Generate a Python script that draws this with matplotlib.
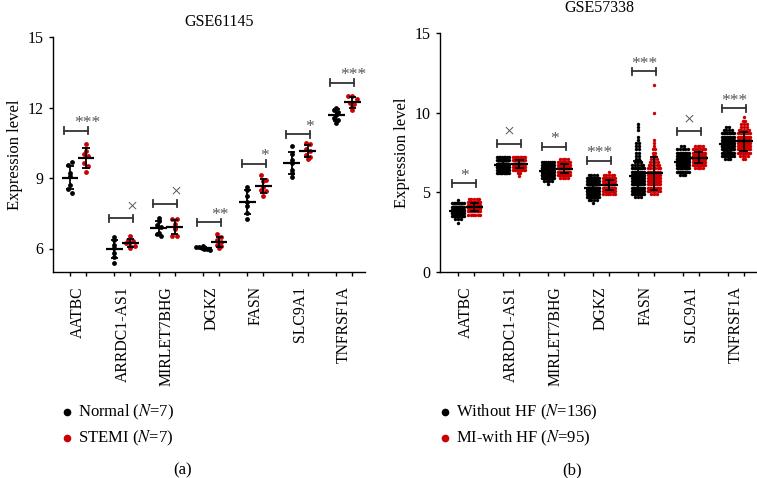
import numpy as np
import matplotlib
matplotlib.use("Agg")
import matplotlib.pyplot as plt
from matplotlib.lines import Line2D

plt.rcParams['font.family'] = ['Liberation Serif', 'DejaVu Serif']
plt.rcParams['mathtext.fontset'] = 'stix'

genes = ['AATBC', 'ARRDC1-AS1', 'MIRLET7BHG', 'DGKZ', 'FASN', 'SLC9A1', 'TNFRSF1A']

# ---------------- Panel (a): GSE61145 (N=7 per group) ----------------
normal_a = [
    [9.54, 9.68, 9.22, 9.07, 8.72, 8.54, 8.37],
    [6.50, 6.35, 6.17, 6.03, 5.82, 5.65, 5.40],
    [7.30, 7.16, 6.98, 6.90, 6.67, 6.60, 6.52],
    [6.10, 6.07, 6.05, 6.02, 6.00, 5.97, 5.95],
    [8.62, 8.50, 8.22, 8.00, 7.80, 7.51, 7.26],
    [10.37, 10.03, 9.78, 9.64, 9.35, 9.21, 9.04],
    [12.00, 11.90, 11.79, 11.69, 11.55, 11.48, 11.34],
]
stemi_a = [
    [10.46, 10.17, 10.02, 9.92, 9.64, 9.50, 9.24],
    [6.55, 6.35, 6.31, 6.24, 6.10, 6.10, 6.03],
    [7.27, 7.27, 7.06, 6.88, 6.81, 6.55, 6.52],
    [6.60, 6.50, 6.35, 6.28, 6.17, 6.10, 6.03],
    [9.11, 8.93, 8.86, 8.62, 8.50, 8.43, 8.25],
    [10.49, 10.46, 10.25, 10.13, 9.99, 9.89, 9.82],
    [12.51, 12.51, 12.35, 12.18, 12.16, 12.01, 11.90],
]
sig_a = ['***', '×', '×', '**', '*', '*', '***']
sig_a_y = [11.02, 7.29, 7.91, 7.12, 9.60, 10.87, 13.05]

woHF_levels = [
    [3.1, 3.3, 3.5, 3.7, 3.9, 4.1, 4.3, 4.5],
    [6.2, 6.4, 6.6, 6.8, 7.0, 7.2],
    [5.5, 5.7, 5.9, 6.1, 6.3, 6.5, 6.7, 6.9],
    [4.3, 4.5, 4.7, 4.9, 5.1, 5.3, 5.5, 5.7, 5.9, 6.1],
    [4.7, 4.9, 5.1, 5.3, 5.5, 5.7, 5.9, 6.1, 6.3, 6.5, 6.7, 6.9, 7.1, 7.3, 7.5, 7.7,
     7.9, 8.1, 8.3, 8.5, 8.9, 9.1, 9.3],
    [6.1, 6.3, 6.5, 6.7, 6.9, 7.1, 7.3, 7.5, 7.7, 7.9],
    [7.1, 7.3, 7.5, 7.7, 7.9, 8.1, 8.3, 8.5, 8.7, 8.9, 9.1],
]
woHF_counts = [
    [1, 3, 16, 38, 42, 26, 9, 1],
    [10, 24, 38, 34, 22, 8],
    [1, 4, 14, 26, 34, 30, 20, 7],
    [1, 4, 10, 18, 25, 26, 22, 16, 10, 4],
    [3, 8, 12, 14, 15, 15, 14, 12, 10, 8, 5, 3, 2, 2, 2, 2, 2, 2, 1, 1, 1, 1, 1],
    [3, 10, 18, 24, 26, 22, 16, 10, 5, 2],
    [3, 8, 15, 20, 24, 22, 18, 12, 8, 4, 2],
]
wHF_levels = [
    [3.6, 3.8, 4.0, 4.2, 4.4, 4.6],
    [6.0, 6.2, 6.4, 6.6, 6.8, 7.0, 7.2],
    [5.9, 6.1, 6.3, 6.5, 6.7, 6.9, 7.1],
    [4.9, 5.1, 5.3, 5.5, 5.7, 5.9, 6.1, 6.3],
    [4.9, 5.1, 5.3, 5.5, 5.7, 5.9, 6.1, 6.3, 6.5, 6.7, 6.9, 7.1, 7.3, 7.5, 7.7, 7.9,
     8.1, 8.3, 10.0, 11.75],
    [6.5, 6.7, 6.9, 7.1, 7.3, 7.5, 7.7, 7.9],
    [7.1, 7.3, 7.5, 7.7, 7.9, 8.1, 8.3, 8.5, 8.7, 8.9, 9.1, 9.3, 9.5, 9.7],
]
wHF_counts = [
    [6, 18, 28, 25, 13, 5],
    [1, 2, 10, 22, 28, 22, 10],
    [4, 12, 20, 24, 20, 11, 4],
    [6, 16, 22, 20, 15, 10, 5, 1],
    [3, 6, 8, 10, 11, 11, 9, 8, 6, 5, 4, 3, 2, 2, 2, 1, 1, 1, 1, 1],
    [4, 10, 16, 20, 19, 13, 9, 4],
    [2, 4, 8, 11, 13, 13, 12, 10, 8, 5, 3, 3, 2, 1],
]
sig_b = ['*', '×', '*', '***', '***', '×', '***']
sig_b_y = [5.57, 8.04, 7.87, 6.99, 12.59, 8.82, 10.28]

BLACK = '#000000'
RED = '#cc0000'
SYM = '#555555'
BRK = '#333333'

W, H = 757, 478
fig = plt.figure(figsize=(W / 100, H / 100), dpi=100)


def swarm_offsets(vals, row_h, dx, maxhalf):
    vals = np.asarray(vals, dtype=float)
    rows = np.floor(vals / row_h + 1e-6).astype(int)
    off = np.zeros(len(vals))
    for r in np.unique(rows):
        idx = np.where(rows == r)[0]
        k = len(idx)
        if k < 2:
            continue
        sp = min(dx, 2 * maxhalf / (k - 1))
        off[idx] = (np.arange(k) - (k - 1) / 2) * sp
    return off


def style_axes(ax, ylim, yticks, xlim):
    ax.set_xlim(*xlim)
    ax.set_ylim(*ylim)
    for s in ['top', 'right']:
        ax.spines[s].set_visible(False)
    for s in ['left', 'bottom']:
        ax.spines[s].set_linewidth(1.0)
    ax.set_yticks(yticks)
    ax.set_yticklabels([str(t) for t in yticks], fontsize=11.5)
    ax.tick_params(axis='y', direction='out', length=3, width=1, pad=4)
    ax.set_xticks(range(len(genes)))
    ax.set_xticklabels(genes, rotation=90, fontsize=11.3)
    ax.tick_params(axis='x', which='major', length=0, pad=10)
    minor = []
    for i in range(len(genes)):
        minor += [i - 0.18, i + 0.18]
    ax.set_xticks(minor, minor=True)
    ax.tick_params(axis='x', which='minor', direction='out', length=3, width=1)
    ax.set_ylabel('Expression level', fontsize=12, labelpad=3)
    ax.patch.set_alpha(0)


def draw_group(ax, x, vals, color, ms, row_h, dx, maxhalf, mhalf, chalf):
    vals = np.asarray(vals, dtype=float)
    off = swarm_offsets(vals, row_h, dx, maxhalf)
    ax.scatter(x + off, vals, s=ms, color=color, linewidths=0, zorder=2)
    m = vals.mean()
    sd = vals.std(ddof=1)
    ax.plot([x - mhalf, x + mhalf], [m, m], color='black', lw=1.6, zorder=3, solid_capstyle='butt')
    ax.plot([x, x], [m - sd, m + sd], color='black', lw=1.3, zorder=3)
    for yv in (m - sd, m + sd):
        ax.plot([x - chalf, x + chalf], [yv, yv], color='black', lw=1.3, zorder=3, solid_capstyle='butt')


def bracket(ax, i, y, sym, caph, text_dx):
    x0, x1 = i - 0.31, i + 0.23
    ax.plot([x0, x1], [y, y], color=BRK, lw=1.3, zorder=3)
    ax.plot([x0, x0], [y - caph, y + caph], color=BRK, lw=1.3, zorder=3)
    ax.plot([x1, x1], [y - caph, y + caph], color=BRK, lw=1.3, zorder=3)
    if '*' in sym:
        ax.annotate(sym, (i + text_dx, y), xytext=(0, 2.5), textcoords='offset points',
                    ha='center', va='baseline', fontsize=12.5, color=SYM)
    else:
        ax.annotate(sym, (i + text_dx, y), xytext=(0, 5), textcoords='offset points',
                    ha='center', va='baseline', fontsize=14, color=SYM)


# ---------- Panel (a) ----------
axA = fig.add_axes([53 / W, 1 - 272 / H, (365 - 53) / W, (272 - 37) / H])
for i in range(len(genes)):
    draw_group(axA, i - 0.18, normal_a[i], BLACK, 12, 0.19, 0.1, 0.15, 0.19, 0.08)
    draw_group(axA, i + 0.18, stemi_a[i], RED, 12, 0.19, 0.1, 0.15, 0.19, 0.08)
    bracket(axA, i, sig_a_y[i], sig_a[i], 0.15, 0.21)
style_axes(axA, (5, 15), [6, 9, 12, 15], (-0.564, 6.47))

# ---------- Panel (b) ----------
axB = fig.add_axes([440 / W, 1 - 272 / H, (757 - 440) / W, (272 - 33) / H])
for i in range(len(genes)):
    v0 = np.repeat(woHF_levels[i], woHF_counts[i])
    v1 = np.repeat(wHF_levels[i], wHF_counts[i])
    draw_group(axB, i - 0.18, v0, BLACK, 6, 0.2, 0.06, 0.13, 0.19, 0.1)
    draw_group(axB, i + 0.18, v1, RED, 6, 0.2, 0.06, 0.13, 0.19, 0.1)
    bracket(axB, i, sig_b_y[i], sig_b[i], 0.22, -0.04)
style_axes(axB, (0, 15), [0, 5, 10, 15], (-0.578, 6.47))

# ---------- Titles ----------
fig.text(219 / W, 1 - 22 / H, 'GSE61145', ha='center', va='center', fontsize=11.5)
fig.text(599 / W, 1 - 8 / H, 'GSE57338', ha='center', va='center', fontsize=11.5)

# ---------- Legends ----------
def legend_entry(xm, xt, y, color, label):
    fig.add_artist(Line2D([xm / W], [1 - y / H], transform=fig.transFigure, marker='o',
                          markersize=4.5, color=color, linestyle='none'))
    fig.text(xt / W, 1 - y / H, label, ha='left', va='center', fontsize=12)

legend_entry(67, 78, 412, BLACK, 'Normal ($N$=7)')
legend_entry(67, 78, 438, RED, 'STEMI ($N$=7)')
legend_entry(445, 456, 412, BLACK, 'Without HF ($N$=136)')
legend_entry(445, 456, 438, RED, 'MI-with HF ($N$=95)')

fig.text(183 / W, 1 - 470 / H, '(a)', ha='center', va='center', fontsize=12)
fig.text(572 / W, 1 - 470 / H, '(b)', ha='center', va='center', fontsize=12)

fig.savefig('out.png', dpi=100)
